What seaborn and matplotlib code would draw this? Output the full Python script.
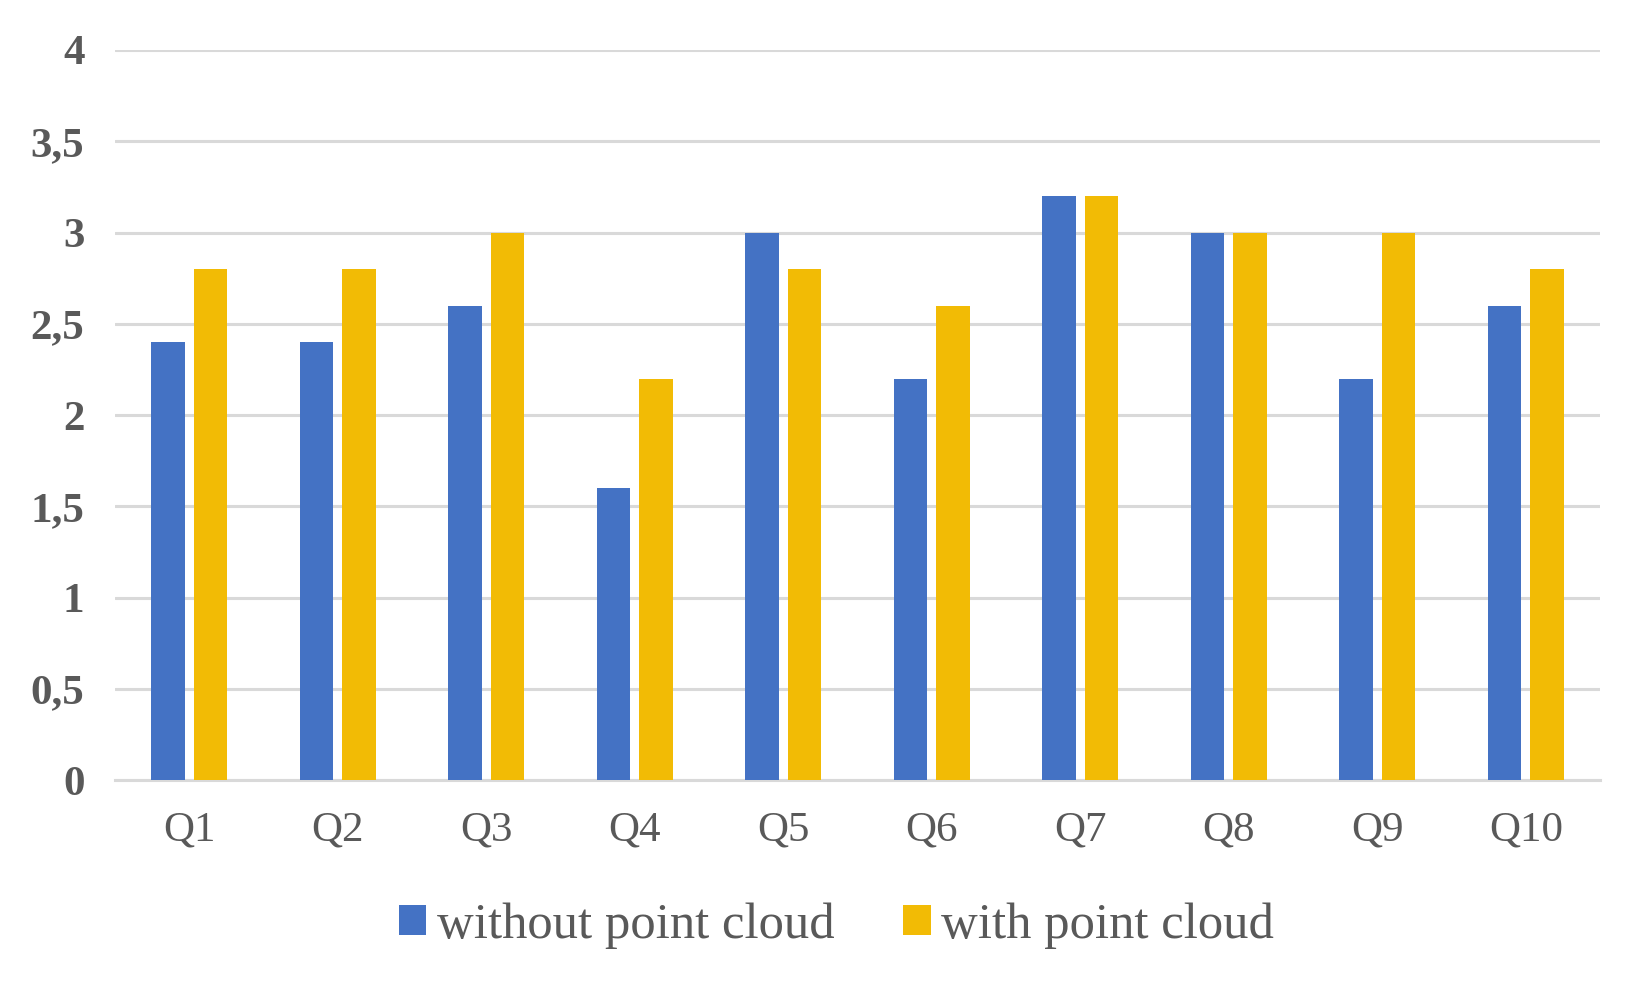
import pandas as pd
import numpy as np
import seaborn as sns
import matplotlib.pyplot as plt
from matplotlib.ticker import FuncFormatter

# values
questions = ["Q1", "Q2", "Q3", "Q4", "Q5", "Q6", "Q7", "Q8", "Q9", "Q10"]
without_pc = [2.4, 2.4, 2.6, 1.6, 3.0, 2.2, 3.2, 3.0, 2.2, 2.6]
with_pc = [2.8, 2.8, 3.0, 2.2, 2.8, 2.6, 3.2, 3.0, 3.0, 2.8]
series_names = ["without point cloud", "with point cloud"]
y_ticks = [0, 0.5, 1, 1.5, 2, 2.5, 3, 3.5, 4]

df = pd.DataFrame({
    "question": questions * 2,
    "score": without_pc + with_pc,
    "series": [series_names[0]] * len(questions) + [series_names[1]] * len(questions),
})

sns.set_style("white")
plt.rcParams['font.family'] = ['Liberation Serif', 'DejaVu Serif']
text_col = "#595959"
grid_col = "#D9D9D9"

fig = plt.figure(figsize=(16.49, 9.9), dpi=100)
ax = fig.add_axes([0.0697, 0.2121, 0.9006, 0.7374])

sns.barplot(data=df, x="question", y="score", hue="series",
            palette=["#4472C4", "#F2BB05"], width=0.572, gap=0.21,
            saturation=1, linewidth=0, edgecolor="none", ax=ax, zorder=3)

ax.set_ylim(0, 4)
ax.set_xlim(-0.5, len(questions) - 0.5)
ax.set_yticks(y_ticks)
ax.yaxis.set_major_formatter(FuncFormatter(lambda v, p: f"{v:g}".replace(".", ",")))
ax.grid(axis="y", color=grid_col, linewidth=2.2, zorder=0)
ax.set_axisbelow(True)
for s in ["top", "right", "left"]:
    ax.spines[s].set_visible(False)
ax.spines["bottom"].set_color(grid_col)
ax.spines["bottom"].set_linewidth(2.2)
ax.tick_params(axis="y", length=0, pad=22, labelsize=31, labelcolor=text_col)
ax.tick_params(axis="x", length=0, pad=22, labelsize=31, labelcolor=text_col)
for lbl in ax.get_yticklabels():
    lbl.set_fontweight("bold")
ax.set_xlabel("")
ax.set_ylabel("")

handles, labels = ax.get_legend_handles_labels()
ax.legend_.remove()
leg = fig.legend(handles, labels, loc="center", bbox_to_anchor=(0.507, 0.065),
                 ncol=2, frameon=False, fontsize=36.5, handlelength=0.55,
                 handleheight=0.55, handletextpad=0.2, columnspacing=1.35)
for t in leg.get_texts():
    t.set_color(text_col)

plt.savefig("out.png", dpi=100)
